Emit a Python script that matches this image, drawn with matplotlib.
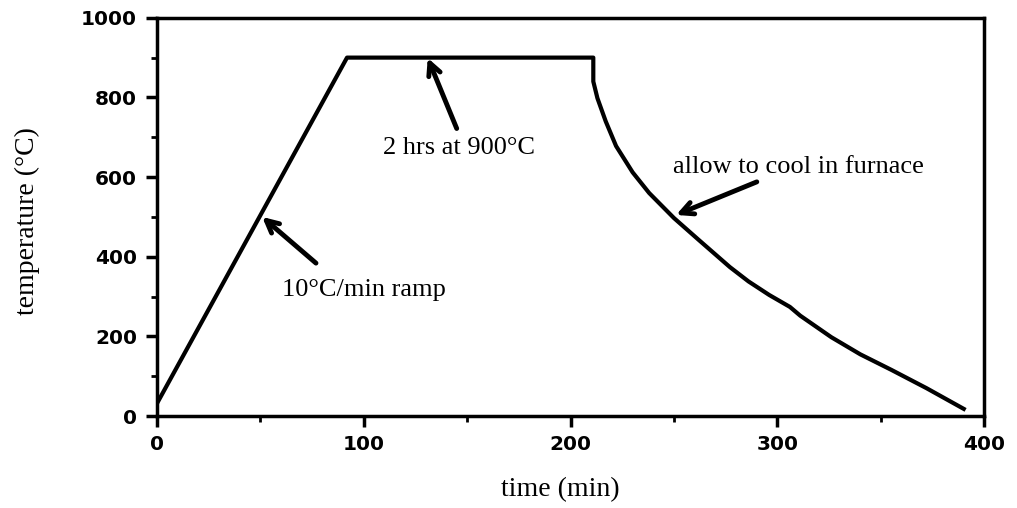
import matplotlib
matplotlib.use('Agg')
from matplotlib import pyplot as plt
from matplotlib.ticker import MultipleLocator

# firing schedule
time = [0, 92, 211, 211, 213, 217, 222, 230, 238, 250, 262, 277, 286, 296, 306, 311, 326, 340, 355, 372, 390]
temp = [30, 900, 900, 840, 798, 740, 678, 612, 560, 497, 442, 374, 338, 304, 274, 252, 198, 155, 116, 70, 18]

xticks = [0, 100, 200, 300, 400]
yticks = [0, 200, 400, 600, 800, 1000]

# label, text position, arrow tail, arrow tip
notes = [
	('2 hrs at 900°C',           (146, 672), (145, 722), (131, 899)),
	('10°C/min ramp',            (100, 316), (77, 384),  (51, 500)),
	('allow to cool in furnace', (310, 626), (290, 588), (251, 505)),
]

serif = 'Liberation Serif'
sans  = 'DejaVu Sans'

fig = plt.figure(figsize=(10.17, 5.08), dpi=100)
ax  = fig.add_axes([0.154, 0.181, 0.814, 0.784])

ax.plot(time, temp, color='black', linewidth=3, solid_joinstyle='round')

ax.set_xlim(0, 400)
ax.set_ylim(0, 1000)
ax.set_xticks(xticks)
ax.set_yticks(yticks)
ax.xaxis.set_minor_locator(MultipleLocator(50))
ax.yaxis.set_minor_locator(MultipleLocator(100))
ax.tick_params(which='major', direction='out', length=8, width=2.5, pad=6)
ax.tick_params(which='minor', direction='out', length=4, width=2)
for lab in ax.get_xticklabels() + ax.get_yticklabels():
	lab.set_fontfamily(sans)
	lab.set_fontweight('bold')
	lab.set_fontsize(14.5)

for s in ax.spines.values():
	s.set_linewidth(2.5)

fig.text(560/1017, 1-490/508, 'time (min)', family=serif, fontsize=20, ha='center', va='center')
fig.text(27/1017, 1-221/508, 'temperature (°C)', family=serif, fontsize=20,
		 ha='center', va='center', rotation=90)

for label, pos, tail, tip in notes:
	ax.text(pos[0], pos[1], label, family=serif, fontsize=19, ha='center', va='center')
	ax.annotate('', xy=tip, xytext=tail,
				arrowprops=dict(arrowstyle='->', lw=3.5, color='black',
								mutation_scale=22, shrinkA=0, shrinkB=0))

fig.savefig('out.png', dpi=100)
